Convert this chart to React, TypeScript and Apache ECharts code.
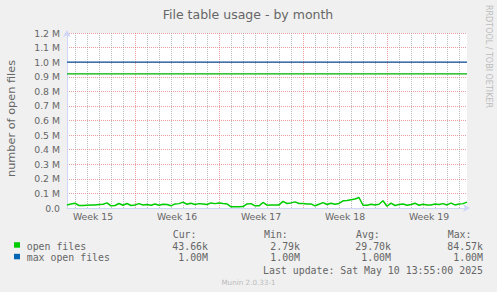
import React, { useEffect, useRef } from 'react';
import * as echarts from 'echarts';

// ---- data ----
const titleText = 'File table usage - by month';
const yAxisTitle = 'number of open files';
const watermarkText = 'RRDTOOL / TOBI OETIKER';
const sampleStepHours = 8; // one sample every 8 hours
const spanHours = 800; // 33.3 days shown
const yMax = 1200000;
const openFiles = [
  21000, 28000, 33000, 17000, 17000, 19000, 21000, 21000, 24000, 26000,
  35000, 15000, 17000, 31000, 19000, 31000, 17000, 21000, 30000, 21000,
  24000, 19000, 28000, 19000, 26000, 24000, 15000, 28000, 30000, 40000,
  26000, 33000, 24000, 30000, 28000, 24000, 35000, 30000, 35000, 31000,
  28000, 8000, 8000, 8000, 10000, 28000, 30000, 15000, 15000, 38000,
  19000, 21000, 21000, 21000, 45000, 31000, 35000, 42000, 31000, 31000,
  28000, 28000, 15000, 26000, 37000, 24000, 33000, 26000, 31000, 49000,
  52000, 57000, 62000, 72000, 19000, 19000, 26000, 21000, 26000, 50000,
  12000, 33000, 17000, 24000, 28000, 19000, 24000, 33000, 19000, 26000,
  21000, 21000, 28000, 24000, 30000, 21000, 33000, 21000, 28000, 30000,
  40000,
];
const maxOpenFilesValue = 1000000;
const warningLevel = 920000;
const weekLabels = ['Week 15', 'Week 16', 'Week 17', 'Week 18', 'Week 19'];
const weekLabelHours = [52, 220, 388, 556, 724];
const weekStartHours = [136, 304, 472, 640];
const firstMidnightHour = 16;
const legendHeaders = ['Cur:', 'Min:', 'Avg:', 'Max:'];
const legendNames = ['open files', 'max open files'];
const legendColors = ['#00CC00', '#0066B3'];
const legendValues = [
  ['43.66k', '2.79k', '29.70k', '84.57k'],
  ['1.00M', '1.00M', '1.00M', '1.00M'],
];
const lastUpdateText = 'Last update: Sat May 10 13:55:00 2025';
const versionText = 'Munin 2.0.33-1';

const FONT = "'DejaVu Sans', sans-serif";
const MONO = "'DejaVu Sans Mono', monospace";
const TEXT_COLOR = '#666666';
const MINOR_GRID = 'rgba(143,143,143,0.6)';
const MAJOR_GRID = 'rgba(222,79,79,0.55)';

function gridSeries(name: string, hours: number[], color: string) {
  const data: any[] = [];
  hours.forEach((h) => {
    // +1 hour = half a pixel, keeps the 1px dotted line crisp
    data.push([h + 1, 0], [h + 1, yMax], [h + 1, '-']);
  });
  return {
    name,
    type: 'line',
    data,
    z: 1,
    silent: true,
    symbol: 'none',
    showSymbol: false,
    connectNulls: false,
    lineStyle: { width: 1, color, type: [1, 1] },
  };
}

export default function App() {
  const ref = useRef<HTMLDivElement>(null);

  useEffect(() => {
    const chart = echarts.init(ref.current!, null, { renderer: 'svg' });

    const openData = openFiles.map((v, i) => [i * sampleStepHours, v]);
    const maxData = openFiles.map((_, i) => [i * sampleStepHours, maxOpenFilesValue]);
    const warnData = openFiles.map((_, i) => [i * sampleStepHours, warningLevel]);

    const dayLines: number[] = [];
    for (let h = firstMidnightHour; h < spanHours; h += 24) {
      if (!weekStartHours.includes(h)) dayLines.push(h);
    }

    const graphics: any[] = [
      {
        type: 'text', x: 248, y: 14.8,
        style: { text: titleText, fill: TEXT_COLOR, font: `12.5px ${FONT}`, align: 'center', verticalAlign: 'middle', textAlign: 'center', textVerticalAlign: 'middle' },
      },
      {
        type: 'text', x: 11, y: 118.5, rotation: Math.PI / 2,
        style: { text: yAxisTitle, fill: TEXT_COLOR, font: `11.3px ${FONT}`, align: 'center', verticalAlign: 'middle', textAlign: 'center', textVerticalAlign: 'middle' },
      },
      {
        type: 'text', x: 488.5, y: 56.5, rotation: -Math.PI / 2,
        style: { text: watermarkText, fill: '#bdbdbd', font: `8px ${FONT}`, align: 'center', verticalAlign: 'middle', textAlign: 'center', textVerticalAlign: 'middle' },
      },
    ];

    const headerX = [172.7, 264, 356, 447.7];
    const valueRightX = [208, 300, 391, 483];
    legendHeaders.forEach((h, i) => {
      graphics.push({
        type: 'text', x: headerX[i], y: 234.6,
        style: { text: h, fill: TEXT_COLOR, font: `9.9px ${MONO}`, align: 'left', verticalAlign: 'middle', textAlign: 'left', textVerticalAlign: 'middle' },
      });
    });
    const rowY = [246.2, 257.8];
    legendNames.forEach((name, r) => {
      graphics.push({
        type: 'rect', shape: { x: 14, y: rowY[r] - 4, width: 6, height: 5.5 },
        style: { fill: legendColors[r] },
      });
      graphics.push({
        type: 'text', x: 26.7, y: rowY[r],
        style: { text: name, fill: TEXT_COLOR, font: `9.9px ${MONO}`, align: 'left', verticalAlign: 'middle', textAlign: 'left', textVerticalAlign: 'middle' },
      });
      legendValues[r].forEach((v, c) => {
        graphics.push({
          type: 'text', x: valueRightX[c], y: rowY[r],
          style: { text: v, fill: TEXT_COLOR, font: `9.9px ${MONO}`, align: 'right', verticalAlign: 'middle', textAlign: 'right', textVerticalAlign: 'middle' },
        });
      });
    });
    graphics.push({
      type: 'text', x: 483, y: 270.2,
      style: { text: lastUpdateText, fill: TEXT_COLOR, font: `9.9px ${MONO}`, align: 'right', verticalAlign: 'middle', textAlign: 'right', textVerticalAlign: 'middle' },
    });
    graphics.push({
      type: 'text', x: 248.5, y: 282,
      style: { text: versionText, fill: '#bbbbbb', font: `7.2px ${FONT}`, align: 'center', verticalAlign: 'middle', textAlign: 'center', textVerticalAlign: 'middle' },
    });

    const axisColor = '#CFD6F8';

    chart.setOption({
      animation: false,
      backgroundColor: '#F0F0F0',
      grid: {
        left: 67, top: 33, width: 400, height: 175,
        show: true, backgroundColor: '#FFFFFF', borderWidth: 0,
        containLabel: false,
      },
      xAxis: {
        type: 'value', min: 0, max: spanHours,
        axisLine: {
          show: true,
          lineStyle: { color: axisColor, width: 1 },
          symbol: ['none', 'arrow'], symbolSize: [6, 7], symbolOffset: [0, 3],
        },
        axisTick: { show: false },
        splitLine: { show: false },
        axisLabel: {
          customValues: weekLabelHours,
          formatter: (v: number) => {
            const i = weekLabelHours.indexOf(v);
            return i >= 0 ? weekLabels[i] : '';
          },
          color: TEXT_COLOR, fontFamily: FONT, fontSize: 9.3, margin: 4,
        },
      },
      yAxis: {
        type: 'value', min: 0, max: yMax, interval: 100000,
        axisLine: {
          show: true,
          lineStyle: { color: axisColor, width: 1 },
          symbol: ['none', 'arrow'], symbolSize: [6, 7], symbolOffset: [0, 3],
        },
        axisTick: { show: false },
        splitLine: { show: true, lineStyle: { color: MAJOR_GRID, width: 1, type: [1, 1] } },
        axisLabel: {
          formatter: (v: number) => (v === 0 ? '0.0' : (v / 1000000).toFixed(1) + ' M'),
          color: TEXT_COLOR, fontFamily: FONT, fontSize: 9.3, margin: 7,
        },
      },
      series: [
        gridSeries('day grid', dayLines, MINOR_GRID),
        gridSeries('week grid', weekStartHours, MAJOR_GRID),
        {
          name: 'open files warning',
          type: 'line',
          data: warnData,
          z: 2,
          showSymbol: false,
          symbol: 'none',
          lineStyle: { color: '#00B000', width: 1.2 },
          silent: true,
        },
        {
          name: legendNames[1],
          type: 'line',
          data: maxData,
          z: 3,
          showSymbol: false,
          symbol: 'none',
          lineStyle: { color: '#0a4f9a', width: 1.2 },
          silent: true,
        },
        {
          name: legendNames[0],
          type: 'line',
          data: openData,
          z: 4,
          showSymbol: false,
          symbol: 'none',
          lineStyle: { color: legendColors[0], width: 1.5 },
          silent: true,
        },
      ],
      graphic: graphics,
    });

    return () => chart.dispose();
  }, []);

  return (
    <div
      ref={ref}
      style={{ position: 'fixed', left: 0, top: 0, width: 497, height: 292 }}
    />
  );
}
